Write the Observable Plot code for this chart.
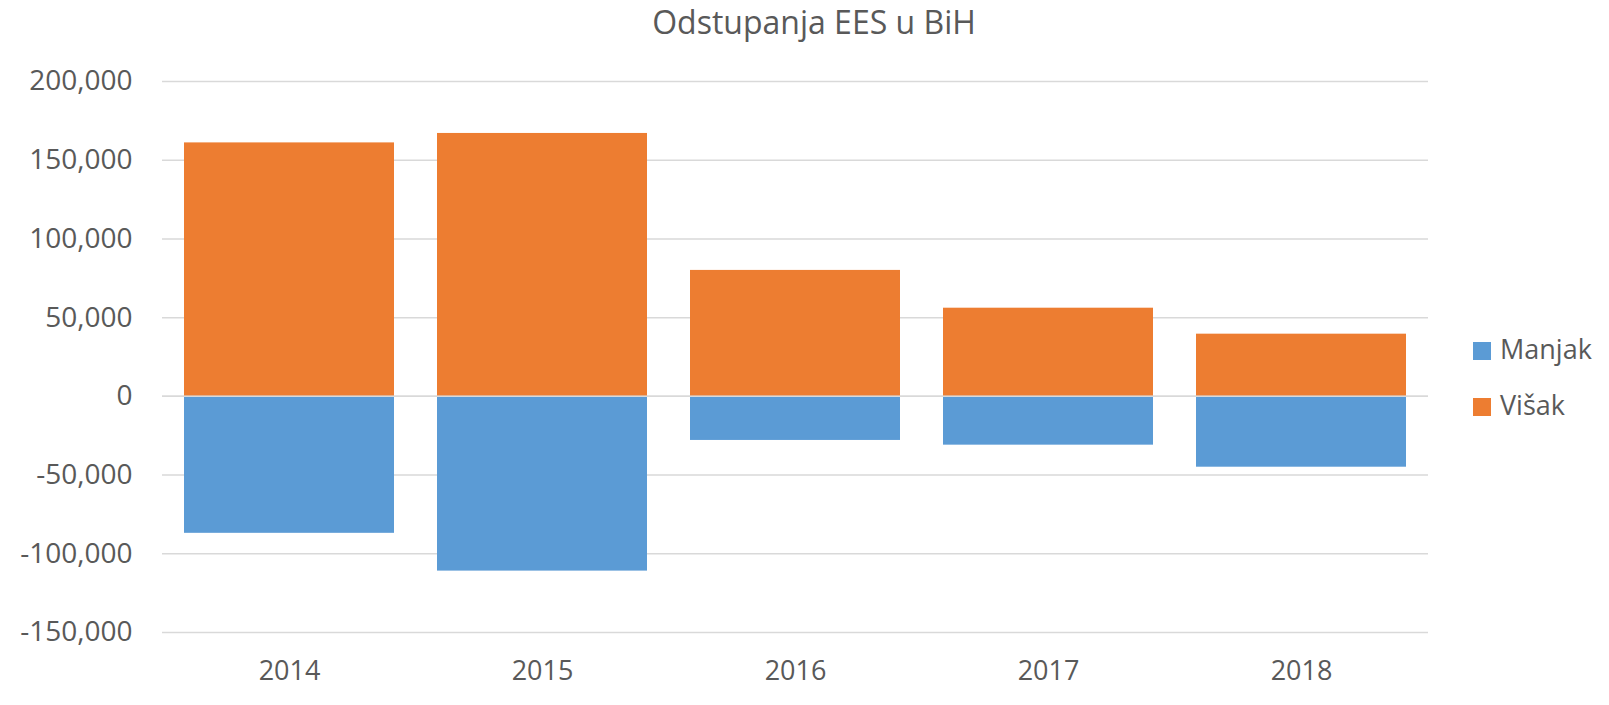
<!DOCTYPE html>
<html>
<head>
<meta charset="utf-8">
<script src="https://cdn.jsdelivr.net/npm/d3@7"></script>
<script src="https://cdn.jsdelivr.net/npm/@observablehq/plot@0.6"></script>
<style>
  html, body { margin: 0; padding: 0; background: #fff; }
  #wrap { position: relative; width: 1609px; height: 705px; font-family: "Open Sans", sans-serif; color: #595959; overflow: hidden; }
  #title { position: absolute; left: 814px; top: 6px; transform: translateX(-50%); font-size: 32px; line-height: 32px; white-space: nowrap; }
  .sw { position: absolute; width: 18px; height: 18px; }
  .lt { position: absolute; font-size: 27px; line-height: 27px; white-space: nowrap; }
  #chart { position: absolute; left: 0; top: 0; }
</style>
</head>
<body>
<div id="wrap">
  <div id="chart"></div>
  <div id="title">Odstupanja EES u BiH</div>
  <div id="legend"></div>
</div>
<script>
const years = ["2014", "2015", "2016", "2017", "2018"];
const manjak = [-87000, -111000, -28000, -31000, -45000];
const visak = [161000, 167000, 80000, 56000, 39500];
const seriesNames = ["Manjak", "Višak"];
const seriesColors = ["#5b9bd5", "#ed7d31"];
const yTicks = [-150000, -100000, -50000, 0, 50000, 100000, 150000, 200000];

const data = years.flatMap((y, i) => [
  {year: y, series: seriesNames[0], value: manjak[i]},
  {year: y, series: seriesNames[1], value: visak[i]}
]);

const chart = Plot.plot({
  width: 1609,
  height: 705,
  marginLeft: 162,
  marginRight: 181,
  marginTop: 81,
  marginBottom: 73,
  style: {fontFamily: "Open Sans, sans-serif", fontSize: "27px", color: "#595959", background: "transparent"},
  x: {domain: years, paddingInner: 0.168, paddingOuter: 0.084, label: null},
  y: {domain: [-150000, 200000], label: null},
  color: {domain: seriesNames, range: seriesColors},
  marks: [
    Plot.ruleY(yTicks, {stroke: "#d9d9d9", strokeWidth: 1.5}),
    Plot.barY(data, {x: "year", y1: 0, y2: "value", fill: "series"}),
    Plot.ruleY([0], {stroke: "#d9d9d9", strokeWidth: 1.5}),
    Plot.axisY(yTicks, {tickSize: 0, tickPadding: 30, fontSize: 28, tickFormat: d => d.toLocaleString("en-US"), label: null}),
    Plot.axisX({tickSize: 0, tickPadding: 28, label: null})
  ]
});
document.getElementById("chart").appendChild(chart);

const legend = document.getElementById("legend");
const legendTops = [342, 397.5];
seriesNames.forEach((name, i) => {
  const sw = document.createElement("div");
  sw.className = "sw";
  sw.style.left = "1473px";
  sw.style.top = legendTops[i] + "px";
  sw.style.background = seriesColors[i];
  legend.appendChild(sw);
  const t = document.createElement("div");
  t.className = "lt";
  t.style.left = "1500px";
  t.style.top = (legendTops[i] - 7) + "px";
  t.textContent = name;
  legend.appendChild(t);
});
</script>
</body>
</html>
